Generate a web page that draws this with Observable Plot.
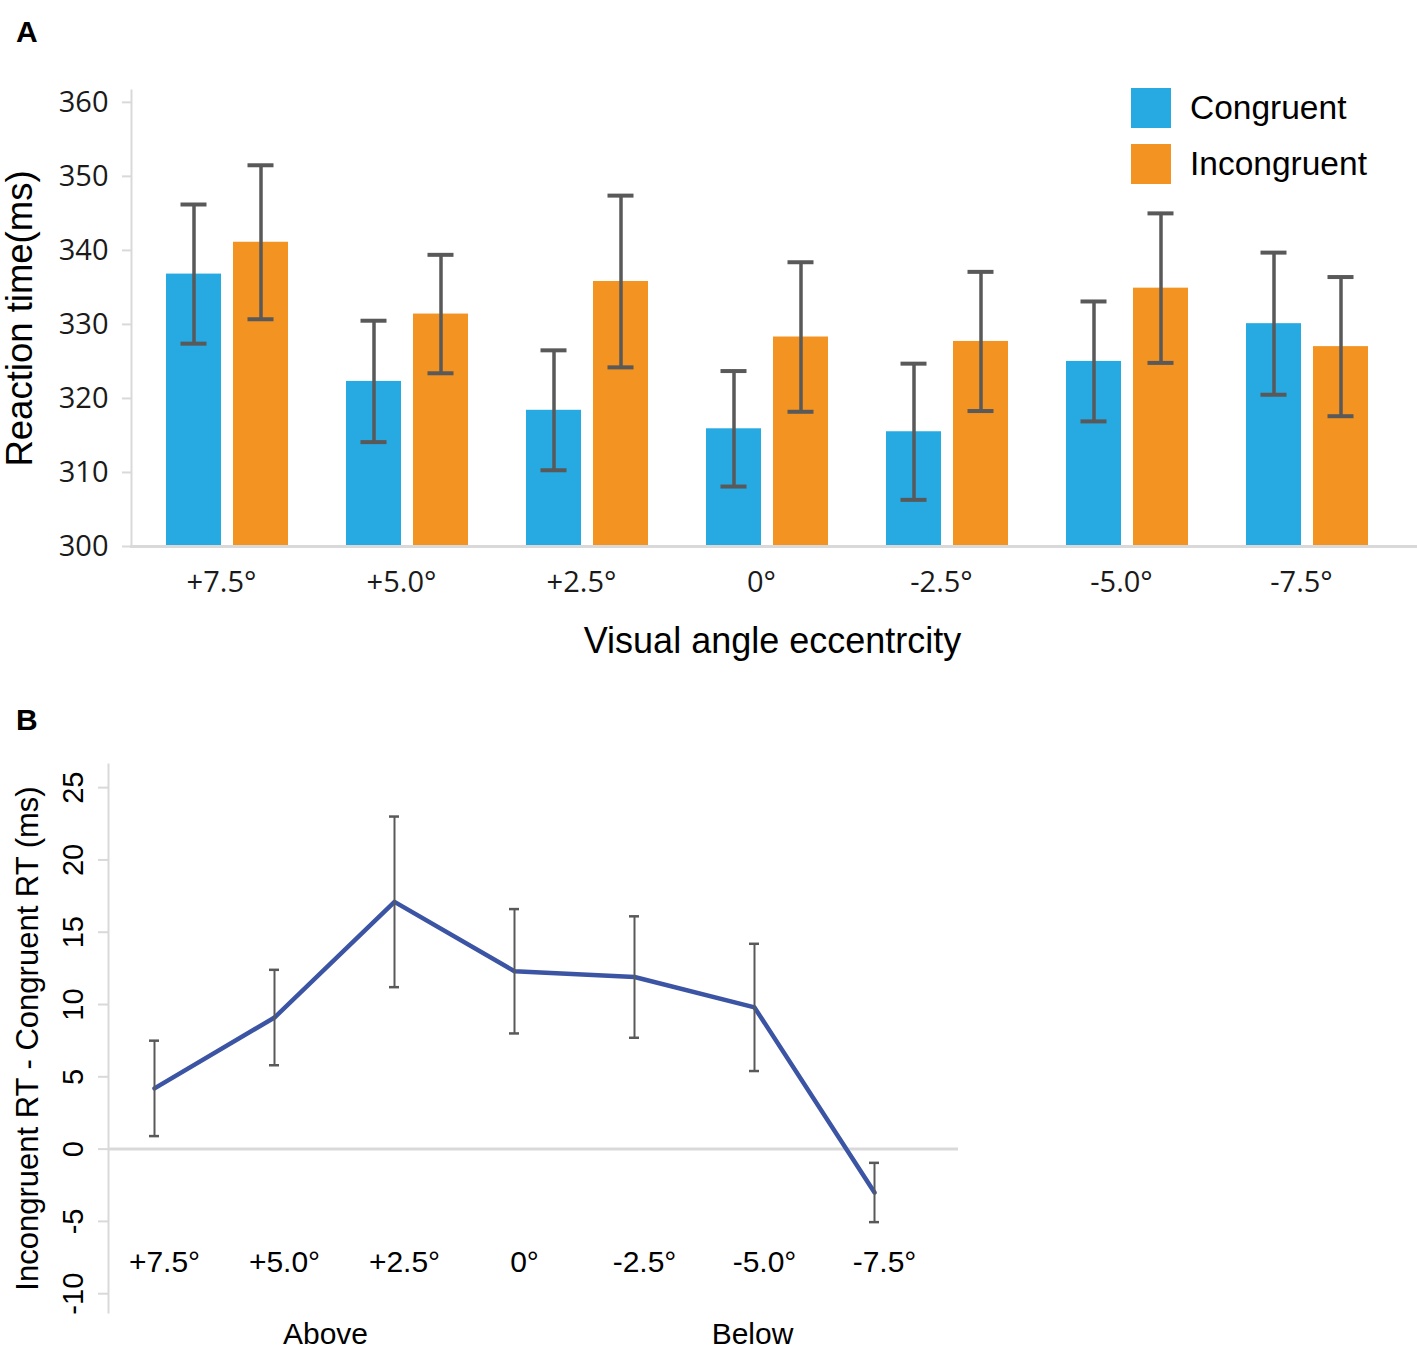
<!DOCTYPE html>
<html>
<head>
<meta charset="utf-8">
<script src="https://cdn.jsdelivr.net/npm/d3@7"></script>
<script src="https://cdn.jsdelivr.net/npm/@observablehq/plot@0.6"></script>
<style>
  body { margin: 0; background: #fff; }
  #wrap { position: relative; width: 1417px; height: 1355px; background: #fff; overflow: hidden; }
  .panel { position: absolute; left: 0; }
  .tag { position: absolute; left: 16px; font: bold 30px "Liberation Sans", Arial, sans-serif; color: #000; line-height: 1; }
  #legend { position: absolute; left: 1131px; top: 88px; font: 33.5px "Liberation Sans", Arial, sans-serif; color: #000; }
  #legend .item { display: flex; align-items: center; height: 40px; margin-bottom: 16px; }
  #legend .sw { width: 40px; height: 40px; margin-right: 19px; }
</style>
</head>
<body>
<div id="wrap">
  <div id="chartA" class="panel" style="top:0"></div>
  <div id="chartB" class="panel" style="top:700px"></div>
  <div class="tag" style="top:17px">A</div>
  <div class="tag" style="top:705px">B</div>
  <div id="legend"></div>
</div>
<script>
// ---------- data ----------
const angles = ["+7.5°", "+5.0°", "+2.5°", "0°", "-2.5°", "-5.0°", "-7.5°"];
const conditions = ["Congruent", "Incongruent"];
const conditionColors = ["#27a9e1", "#f39322"];

// Panel A: mean reaction time (ms) and error (ms)
const congruentMean = [336.8, 322.3, 318.4, 315.9, 315.5, 325.0, 330.1];
const congruentErr  = [9.4, 8.2, 8.1, 7.8, 9.2, 8.1, 9.6];
const incongruentMean = [341.1, 331.4, 335.8, 328.3, 327.7, 334.9, 327.0];
const incongruentErr  = [10.4, 8.0, 11.6, 10.1, 9.4, 10.1, 9.4];
const yDomainA = [300, 361.6];
const yTicksA = [300, 310, 320, 330, 340, 350, 360];
const xTitleA = "Visual angle eccentrcity";
const yTitleA = "Reaction time(ms)";

// Panel B: incongruent - congruent RT (ms)
const diffMean = [4.2, 9.1, 17.1, 12.3, 11.9, 9.8, -3.0];
const diffErr  = [3.3, 3.3, 5.9, 4.3, 4.2, 4.4, 2.05];
const yDomainB = [-11.3, 26.6];
const yTicksB = [-10, -5, 0, 5, 10, 15, 20, 25];
const groupLabels = ["Above", "Below"];
const yTitleB = "Incongruent RT - Congruent RT (ms)";

// ---------- tables ----------
const rowsA = [];
angles.forEach((a, i) => {
  rowsA.push({angle: a, cond: conditions[0], mean: congruentMean[i], err: congruentErr[i]});
  rowsA.push({angle: a, cond: conditions[1], mean: incongruentMean[i], err: incongruentErr[i]});
});
const rowsB = angles.map((a, i) => ({angle: a, mean: diffMean[i], err: diffErr[i]}));

const axisGray = "#d9d9d9";
const errGray = "#595959";
const sans = "'Liberation Sans', Arial, sans-serif";

// ---------- panel A ----------
const plotA = Plot.plot({
  width: 1417,
  height: 680,
  marginLeft: 131,
  marginRight: 0,
  marginTop: 90,
  marginBottom: 134,
  style: {fontFamily: "'Open Sans', sans-serif", background: "white", color: "#1a1a1a", overflow: "visible"},
  fx: {domain: angles, paddingInner: 0, paddingOuter: 0.0683, align: 0},
  x: {domain: conditions, paddingInner: 0.1765, paddingOuter: 0.4132, align: 0.605, axis: null},
  y: {domain: yDomainA},
  color: {domain: conditions, range: conditionColors},
  marks: [
    Plot.barY(rowsA, {fx: "angle", x: "cond", y1: yDomainA[0], y2: "mean", fill: "cond"}),
    Plot.frame({anchor: "bottom", facet: "super", stroke: axisGray, strokeWidth: 3, insetRight: -25}),
    Plot.frame({anchor: "left", facetAnchor: "left", stroke: axisGray, strokeWidth: 2}),
    Plot.axisY({ticks: yTicksA, tickSize: 9, tickFormat: () => "", stroke: axisGray, strokeWidth: 2, label: null}),
    Plot.axisY({ticks: yTicksA, tickSize: 0, tickPadding: 23, tickFormat: d => String(d), fontSize: 29, color: "#1a1a1a", label: null}),
    Plot.axisY({ticks: [], label: yTitleA, labelAnchor: "center", labelArrow: "none", labelOffset: 125, fontSize: 36.5, fontFamily: sans, color: "#000"}),
    Plot.axisFx({anchor: "bottom", tickSize: 0, tickPadding: 25, fontSize: 29, color: "#1a1a1a", label: null}),
    Plot.text([xTitleA], {facet: "super", frameAnchor: "bottom", lineAnchor: "middle", dy: 95, dx: 11, fontSize: 36, fontFamily: sans, fill: "#000"}),
    Plot.ruleX(rowsA, {fx: "angle", x: "cond", y1: d => d.mean - d.err, y2: d => d.mean + d.err, stroke: errGray, strokeWidth: 3.5}),
    Plot.tickY(rowsA, {fx: "angle", x: "cond", y: d => d.mean + d.err, stroke: errGray, strokeWidth: 4, insetLeft: 14.5, insetRight: 14.5}),
    Plot.tickY(rowsA, {fx: "angle", x: "cond", y: d => d.mean - d.err, stroke: errGray, strokeWidth: 4, insetLeft: 14.5, insetRight: 14.5})
  ]
});
document.getElementById("chartA").appendChild(plotA);

// legend
const legend = document.getElementById("legend");
conditions.forEach((c, i) => {
  const item = document.createElement("div");
  item.className = "item";
  const sw = document.createElement("div");
  sw.className = "sw";
  sw.style.background = conditionColors[i];
  const label = document.createElement("span");
  label.textContent = c;
  item.appendChild(sw);
  item.appendChild(label);
  legend.appendChild(item);
});

// ---------- panel B ----------
const plotB = Plot.plot({
  width: 960,
  height: 655,
  marginLeft: 108,
  marginRight: 2,
  marginTop: 64,
  marginBottom: 43,
  style: {fontFamily: sans, background: "white", color: "#000", overflow: "visible"},
  x: {domain: angles, type: "point", padding: 0.536, align: 0.35, axis: null},
  y: {domain: yDomainB, axis: null},
  marks: [
    Plot.ruleY([0], {stroke: axisGray, strokeWidth: 3}),
    Plot.frame({anchor: "left", stroke: axisGray, strokeWidth: 2}),
    Plot.axisY({ticks: yTicksB, tickSize: 10, tickFormat: () => "", stroke: axisGray, strokeWidth: 2, label: null}),
    Plot.text(yTicksB, {y: d => d, text: d => String(d), frameAnchor: "left", rotate: -90, dx: -35, textAnchor: "middle", lineAnchor: "middle", fontSize: 29, fill: "#000"}),
    Plot.axisY({ticks: [], label: yTitleB, labelAnchor: "center", labelArrow: "none", labelOffset: 93, fontSize: 31, color: "#000"}),
    Plot.text(angles, {x: d => d, text: d => d, frameAnchor: "bottom", dy: -50, dx: 10, lineAnchor: "middle", fontSize: 30, fill: "#000"}),
    Plot.text([groupLabels[0]], {x: () => angles[1], text: d => d, frameAnchor: "bottom", dy: 22, dx: 51, lineAnchor: "middle", fontSize: 30, fill: "#000"}),
    Plot.text([groupLabels[1]], {x: () => angles[5], text: d => d, frameAnchor: "bottom", dy: 22, dx: -2, lineAnchor: "middle", fontSize: 30, fill: "#000"}),
    Plot.lineY(rowsB, {x: "angle", y: "mean", stroke: "#3b54a3", strokeWidth: 4.5}),
    Plot.ruleX(rowsB, {x: "angle", y1: d => d.mean - d.err, y2: d => d.mean + d.err, stroke: errGray, strokeWidth: 2}),
    Plot.ruleY(rowsB, {x1: "angle", x2: "angle", y: d => d.mean + d.err, stroke: errGray, strokeWidth: 2.5, insetLeft: -5, insetRight: -5}),
    Plot.ruleY(rowsB, {x1: "angle", x2: "angle", y: d => d.mean - d.err, stroke: errGray, strokeWidth: 2.5, insetLeft: -5, insetRight: -5})
  ]
});
document.getElementById("chartB").appendChild(plotB);
</script>
</body>
</html>
